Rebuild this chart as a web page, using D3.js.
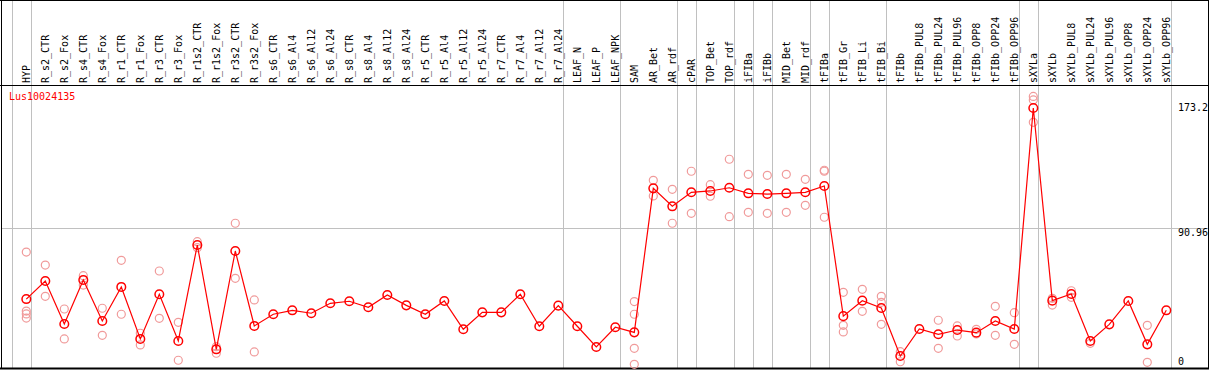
<!DOCTYPE html>
<html>
<head>
<meta charset="utf-8">
<script src="https://cdn.jsdelivr.net/npm/d3@7"></script>
<style>
  body { margin: 0; background: #fff; }
  text { font-family: "DejaVu Sans Mono", monospace; font-size: 10px; }
</style>
</head>
<body>
<div id="chart"></div>
<script>
var geneName = "Lus10024135";

var categories = ["HYP", "R_s2_CTR", "R_s2_Fox", "R_s4_CTR", "R_s4_Fox", "R_r1_CTR", "R_r1_Fox",
  "R_r3_CTR", "R_r3_Fox", "R_r1s2_CTR", "R_r1s2_Fox", "R_r3s2_CTR", "R_r3s2_Fox",
  "R_s6_CTR", "R_s6_Al4", "R_s6_Al12", "R_s6_Al24", "R_s8_CTR", "R_s8_Al4", "R_s8_Al12", "R_s8_Al24",
  "R_r5_CTR", "R_r5_Al4", "R_r5_Al12", "R_r5_Al24", "R_r7_CTR", "R_r7_Al4", "R_r7_Al12", "R_r7_Al24",
  "LEAF_N", "LEAF_P", "LEAF_NPK", "SAM", "AR_Bet", "AR_rdf", "cPAR", "TOP_Bet", "TOP_rdf",
  "iFIBa", "iFIBb", "MID_Bet", "MID_rdf", "tFIBa", "tFIB_Gr", "tFIB_Li", "tFIB_Bi",
  "tFIBb", "tFIBb_PUL8", "tFIBb_PUL24", "tFIBb_PUL96", "tFIBb_OPP8", "tFIBb_OPP24", "tFIBb_OPP96",
  "sXYLa", "sXYLb", "sXYLb_PUL8", "sXYLb_PUL24", "sXYLb_PUL96", "sXYLb_OPP8", "sXYLb_OPP24", "sXYLb_OPP96"];

// mean expression per sample
var means = [42.4, 54.8, 25.3, 55.5, 27.4, 50.7, 15.1,
  45.7, 13.7, 79.4, 8.0, 75.3, 24.0,
  32.0, 34.7, 32.7, 39.5, 40.9, 36.8, 45.2, 38.1,
  32.0, 41.1, 21.7, 33.3, 33.3, 45.7, 23.8, 37.9,
  23.8, 9.6, 23.1, 19.6, 118.2, 105.9, 115.5, 116.4, 118.6,
  114.8, 114.3, 114.8, 115.5, 119.8, 30.7, 41.3, 36.3,
  3.4, 21.9, 18.3, 21.2, 19.4, 27.4, 21.9,
  173.2, 41.3, 45.9, 13.7, 25.1, 41.1, 11.4, 34.7];

// individual replicates
var replicates = [[74.6, 34.2, 32.2, 29.4], [65.7, 44.3], [35.6, 15.1], [58.4, 52.0], [36.1, 17.6], [68.9, 32.0], [19.0, 11.0],
  [61.6, 29.2], [26.5, 0.5], [81.7, 77.6], [9.8, 5.3], [94.3, 56.6], [41.8, 6.2],
  [], [], [], [], [], [], [], [],
  [], [], [], [], [], [], [], [],
  [], [], [], [40.7, 32.0, 8.7, -2.3], [123.7, 113.0], [117.5, 94.3], [129.9, 101.1], [120.7, 112.8], [138.1, 98.8],
  [127.8, 101.8], [127.1, 101.1], [127.8, 101.8], [124.4, 106.6], [130.6, 129.9, 98.4], [47.0, 24.4, 19.9], [49.1, 34.0], [44.3, 40.2, 25.1],
  [6.4, -0.5], [], [27.9, 8.7], [24.0, 17.1], [21.7, 18.5], [37.4, 17.6], [33.1, 11.4],
  [181.1, 178.7, 163.4], [42.9, 38.3], [48.1, 43.6], [12.1], [], [], [24.4, -0.9], []];

// a separator is drawn after each of these samples
var groupEnds = ["HYP", "R_r7_Al24", "LEAF_NPK", "AR_rdf", "cPAR", "TOP_rdf", "iFIBa", "iFIBb",
  "MID_rdf", "tFIBa", "tFIB_Bi", "tFIBb_OPP96", "sXYLa", "sXYLb_OPP96"];

var yTicks = [0, 90.96, 173.2];

var width = 1209, height = 370;
var headerY = 85, bottomY = 369;

var svg = d3.select("#chart")
  .append("svg")
  .attr("width", width)
  .attr("height", height);

var x = d3.scalePoint()
  .domain(categories)
  .range([26.3, 1166.3]);
var step = x.step();

var y = d3.scaleLinear()
  .domain([0, 173.2])
  .range([361, 108]);

// vertical separators
var sepX = [x(categories[0]) - step + 4.4].concat(groupEnds.map(function(c){ return x(c) + 4.4; }));
svg.selectAll(".sep")
  .data(sepX)
  .enter().append("line")
  .attr("class", "sep")
  .attr("x1", function(d){ return Math.round(d) + 0.5; })
  .attr("x2", function(d){ return Math.round(d) + 0.5; })
  .attr("y1", 0)
  .attr("y2", bottomY)
  .attr("stroke", "#c0c0c0")
  .attr("stroke-width", 1);

// horizontal reference line
svg.append("line")
  .attr("x1", 2).attr("x2", width)
  .attr("y1", Math.round(y(90.96)) + 0.5)
  .attr("y2", Math.round(y(90.96)) + 0.5)
  .attr("stroke", "#c0c0c0");

// frame
svg.append("line").attr("x1", 0).attr("x2", width).attr("y1", 0.5).attr("y2", 0.5).attr("stroke", "#000");
svg.append("line").attr("x1", 0).attr("x2", width).attr("y1", headerY + 0.5).attr("y2", headerY + 0.5).attr("stroke", "#000");
svg.append("line").attr("x1", 0).attr("x2", width).attr("y1", bottomY - 0.5).attr("y2", bottomY - 0.5).attr("stroke", "#000").attr("stroke-width", 2);
svg.append("line").attr("x1", 1.5).attr("x2", 1.5).attr("y1", 0).attr("y2", bottomY).attr("stroke", "#000");
svg.append("line").attr("x1", width - 0.5).attr("x2", width - 0.5).attr("y1", 0).attr("y2", bottomY).attr("stroke", "#000");

// sample names
svg.selectAll(".cat")
  .data(categories)
  .enter().append("text")
  .attr("class", "cat")
  .attr("transform", function(d){ return "translate(" + (x(d) + 3.5) + "," + (headerY - 2) + ") rotate(-90)"; })
  .attr("fill", "#000")
  .text(function(d){ return d; });

svg.append("text")
  .attr("x", 9)
  .attr("y", 100)
  .attr("fill", "#ff0000")
  .text(geneName);

// value labels on the right
svg.selectAll(".ytick")
  .data(yTicks)
  .enter().append("text")
  .attr("class", "ytick")
  .attr("x", 1178)
  .attr("y", function(d){
    if (d === 0) return 365;
    if (d === 90.96) return y(d) + 8;
    return y(d) + 3;
  })
  .attr("fill", "#000")
  .text(function(d){ return d; });

// replicate points
var repPoints = [];
replicates.forEach(function(r, i){
  r.forEach(function(v){ repPoints.push({c: categories[i], v: v}); });
});
svg.selectAll(".rep")
  .data(repPoints)
  .enter().append("circle")
  .attr("class", "rep")
  .attr("cx", function(d){ return x(d.c); })
  .attr("cy", function(d){ return y(d.v); })
  .attr("r", 4)
  .attr("fill", "none")
  .attr("stroke", "#f09a9a")
  .attr("stroke-width", 1.2);

// mean line
var line = d3.line()
  .x(function(d, i){ return x(categories[i]); })
  .y(function(d){ return y(d); });

svg.append("path")
  .datum(means)
  .attr("d", line)
  .attr("fill", "none")
  .attr("stroke", "#ff0000")
  .attr("stroke-width", 1.2);

svg.selectAll(".mean")
  .data(means)
  .enter().append("circle")
  .attr("class", "mean")
  .attr("cx", function(d, i){ return x(categories[i]); })
  .attr("cy", function(d){ return y(d); })
  .attr("r", 4.3)
  .attr("fill", "none")
  .attr("stroke", "#ff0000")
  .attr("stroke-width", 1.5);
</script>
</body>
</html>
